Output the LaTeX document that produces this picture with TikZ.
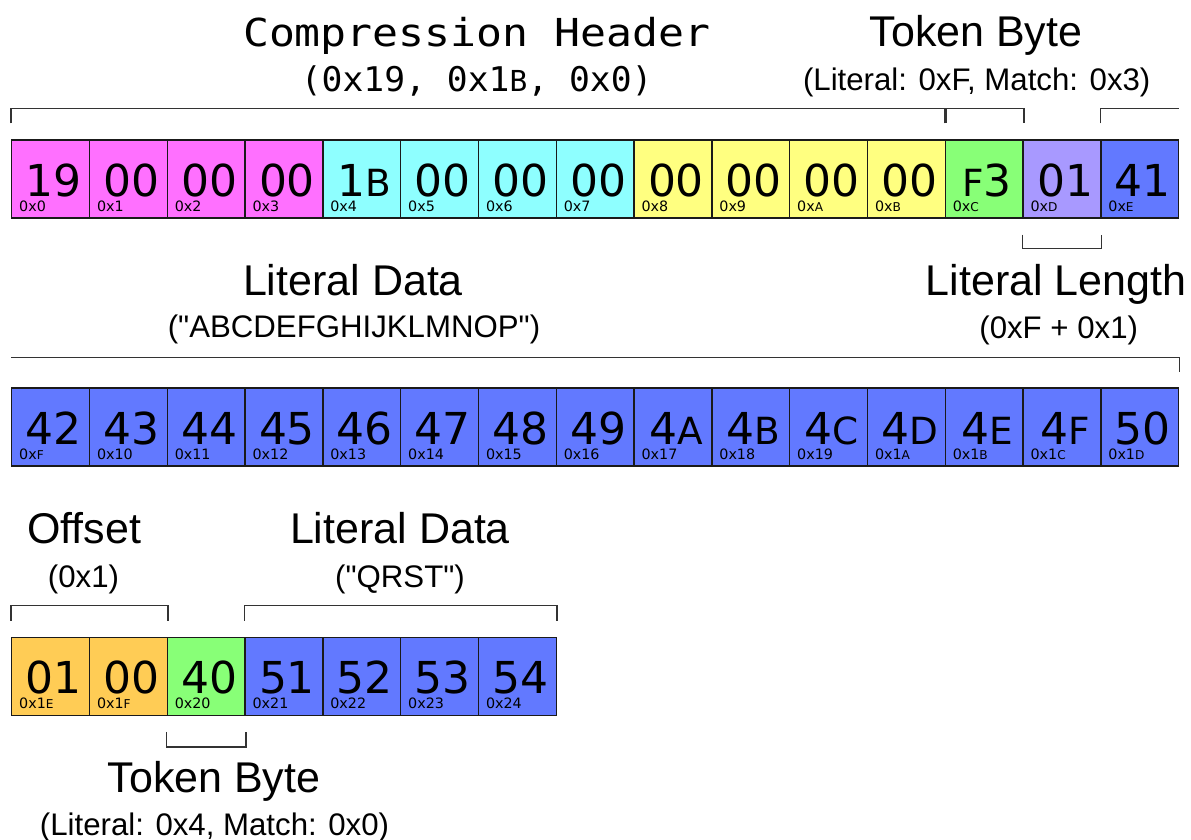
\documentclass[tikz,border=0pt]{standalone}
\usepackage{fontspec}
\setmainfont{Liberation Sans}[Ligatures=TeXOff]
\newfontfamily\cellfont{DejaVu Sans}
\newfontfamily\headfont[FakeStretch=1.12]{DejaVu Sans Mono}
\newfontfamily\headsubfont[FakeStretch=1.02]{DejaVu Sans Mono}
\usetikzlibrary{calc}

\definecolor{hdrpink}{HTML}{FF70FF}
\definecolor{hdrcyan}{HTML}{8EFFFF}
\definecolor{hdryellow}{HTML}{FFFF80}
\definecolor{tokgreen}{HTML}{88FF77}
\definecolor{lenviolet}{HTML}{A899FF}
\definecolor{litblue}{HTML}{6279FF}
\definecolor{offorange}{HTML}{FFCC55}
\definecolor{cellline}{HTML}{1A1A1A}
\definecolor{bracketline}{HTML}{333333}

% hex digits A-F are set a little smaller than the numerals
\newcommand\hxl[1]{\scalebox{0.85}{#1}}

\tikzset{
  cellbox/.style={draw=cellline, line width=1.4pt, minimum width=77.8pt,
    minimum height=78pt, inner sep=0pt, anchor=north west},
  bignum/.style={anchor=base, inner sep=0pt, font=\cellfont\fontsize{44}{44}\selectfont},
  addr/.style={anchor=base west, inner sep=0pt, font=\cellfont\fontsize{14.3}{14.3}\selectfont},
  bracket/.style={draw=bracketline, line width=1.4pt},
  title/.style={anchor=base, inner sep=0pt, font=\fontsize{43}{43}\selectfont},
  subtitle/.style={anchor=base, inner sep=0pt, font=\fontsize{31.2}{31.2}\selectfont},
}

% one byte: name, left x, top y, fill, value, address
\newcommand\bytecell[6]{%
  \node[cellbox, fill=#4] (#1) at ({#2},{#3}) {};
  \node[bignum] (#1v) at ($(#1.south)+(3,-22.5)$) {#5};
  \node[addr] (#1a) at ($(#1.south west)+(8,-7.5)$) {#6};
}

\begin{document}
\begin{tikzpicture}[x=1pt,y=-1pt]
\useasboundingbox (0,0) rectangle (1191,839);

% first row: header, token, length, first literal
\foreach \i/\v/\a/\c in {
  0/19/0x0/hdrpink, 1/00/0x1/hdrpink, 2/00/0x2/hdrpink, 3/00/0x3/hdrpink,
  4/1\hxl{B}/0x4/hdrcyan, 5/00/0x5/hdrcyan, 6/00/0x6/hdrcyan, 7/00/0x7/hdrcyan,
  8/00/0x8/hdryellow, 9/00/0x9/hdryellow, 10/00/0x\hxl{A}/hdryellow, 11/00/0x\hxl{B}/hdryellow,
  12/\hxl{F}3/0x\hxl{C}/tokgreen, 13/01/0x\hxl{D}/lenviolet, 14/41/0x\hxl{E}/litblue}
  \bytecell{c\i}{11+77.8*\i}{139.3}{\c}{\v}{\a};

% second row: literal data
\foreach \i/\v/\a in {
  15/42/0x\hxl{F}, 16/43/0x10, 17/44/0x11, 18/45/0x12, 19/46/0x13, 20/47/0x14,
  21/48/0x15, 22/49/0x16, 23/4\hxl{A}/0x17, 24/4\hxl{B}/0x18, 25/4\hxl{C}/0x19,
  26/4\hxl{D}/0x1\hxl{A}, 27/4\hxl{E}/0x1\hxl{B}, 28/4\hxl{F}/0x1\hxl{C}, 29/50/0x1\hxl{D}}
  \bytecell{c\i}{11+77.8*(\i-15)}{387.3}{litblue}{\v}{\a};

% third row: offset, token, literal data
\foreach \i/\v/\a/\c in {
  30/01/0x1\hxl{E}/offorange, 31/00/0x1\hxl{F}/offorange, 32/40/0x20/tokgreen,
  33/51/0x21/litblue, 34/52/0x22/litblue, 35/53/0x23/litblue, 36/54/0x24/litblue}
  \bytecell{c\i}{11+77.8*(\i-30)}{636.5}{\c}{\v}{\a};

% brackets
\draw[bracket] ($(c0.north west)+(0,-16)$) -- ++(0,-15) -| ($(c11.north east)+(0,-16)$);
\draw[bracket] ($(c12.north west)+(0,-16)$) -- ++(0,-15) -| ($(c12.north east)+(0,-16)$);
\draw[bracket] ($(c14.north west)+(0,-16)$) -- ++(0,-15) -- ($(c14.north east)+(0,-31)$);
\draw[bracket] ($(c13.south west)+(0,16)$) -- ++(0,14) -| ($(c13.south east)+(0,16)$);
\draw[bracket] ($(c15.north west)+(0,-30)$) -| ($(c29.north east)+(0,-15)$);
\draw[bracket] ($(c30.north west)+(0,-16)$) -- ++(0,-15) -| ($(c31.north east)+(0,-16)$);
\draw[bracket] ($(c33.north west)+(0,-16)$) -- ++(0,-15) -| ($(c36.north east)+(0,-16)$);
\draw[bracket] ($(c32.south west)+(0,16)$) -- ++(0,15) -| ($(c32.south east)+(0,16)$);

% labels
\node[anchor=base, inner sep=0pt, font=\headfont\fontsize{38.5}{38.5}\selectfont]
  (hdr) at (476.7,46) {Compression Header};
\node[anchor=base, inner sep=0pt, font=\headsubfont\fontsize{34}{34}\selectfont]
  (hdrsub) at (476.7,91.5) {(0x19, 0x1\hxl{B}, 0x0)};
\node[title] (tok1) at (976,46.7) {Token Byte};
\node[subtitle] (tok1sub) at (976.7,90.7) {(Literal: 0xF, Match: 0x3)};
\node[title] (lit1) at (353,295) {Literal Data};
\node[subtitle] (lit1sub) at (354,337.5) {("ABCDEFGHIJKLMNOP")};
\node[title] (len) at (1056,295) {Literal Length};
\node[subtitle] (lensub) at (1058.7,338) {(0xF + 0x1)};
\node[title] (off) at (84,543.5) {Offset};
\node[subtitle] (offsub) at (83.5,587) {(0x1)};
\node[title] (lit2) at (400,543.5) {Literal Data};
\node[subtitle] (lit2sub) at (400,587) {("QRST")};
\node[title] (tok2) at (214,792.5) {Token Byte};
\node[subtitle] (tok2sub) at (214.5,835.5) {(Literal: 0x4, Match: 0x0)};
\end{tikzpicture}
\end{document}
